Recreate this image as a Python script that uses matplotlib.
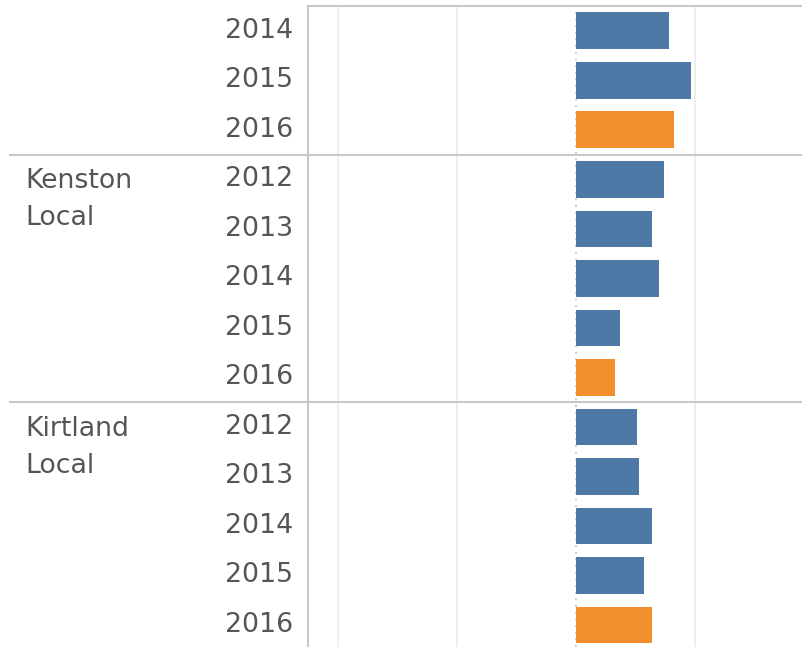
import numpy as np
import matplotlib.pyplot as plt
import matplotlib.transforms as mtransforms

# ============================== DATA ==============================
# rows (top -> bottom); first group is cut off at the top of the view
groups = ['', 'Kenston\nLocal', 'Kirtland\nLocal']
group_years = [['2014', '2015', '2016'],
               ['2012', '2013', '2014', '2015', '2016'],
               ['2012', '2013', '2014', '2015', '2016']]
group_vals = [[7.84, 9.69, 8.26],
              [7.42, 6.39, 7.00, 3.70, 3.28],
              [5.15, 5.35, 6.39, 5.77, 6.39]]

years = [y for g in group_years for y in g]
vals = np.array([v for g in group_vals for v in g])
is_current = np.array([y == '2016' for y in years])

# ============================== PLOT STUFF =============================
blue = '#4e79a7'
orange = '#f28e2b'
txtc = '#555555'
linec = '#c8c8c8'
gridc = '#ebebeb'
fs = 19.3

W, H = 803, 647
fig = plt.figure(figsize=(W/100, H/100), dpi=100)
ax = fig.add_axes([308/W, 0, 1 - 308/W, 1 - 6/H])

rows = np.arange(len(vals))
colors = [orange if c else blue for c in is_current]
ax.barh(rows, vals, height=0.74, color=colors, zorder=3)

ax.set_xlim(-22.5, 19.1)
ax.set_ylim((H - 31) / 49.5, -0.5)

# gridlines and zero line
for gx in [-20, -10, 10]:
    ax.axvline(gx, color=gridc, lw=1.2, zorder=1)
ax.axvline(0, color='#bbbbbb', lw=1.2, ls=(0, (1, 3)), zorder=2)

for s in ['right', 'bottom', 'left', 'top']:
    ax.spines[s].set_visible(False)
ax.set_xticks([])
ax.set_yticks([])

# left border + top border
ax.axvline(-22.5, color=linec, lw=1.5, zorder=4, clip_on=False)
ax.axhline(-0.5, color=linec, lw=1.5, zorder=4, clip_on=False)

trans = mtransforms.blended_transform_factory(ax.transAxes, ax.transData)

# year labels
for r, y in zip(rows, years):
    ax.text(-0.03, r, y, transform=trans, ha='right', va='center',
            fontsize=fs, color=txtc)

# group labels and separators
start = 0
for g, yrs in zip(groups, group_years):
    if start > 0:
        ax.plot([-0.602, 1.0], [start - 0.5, start - 0.5], transform=trans,
                color=linec, lw=1.5, clip_on=False, zorder=4)
    if g:
        ax.text(-0.57, start - 0.22, g, transform=trans, ha='left', va='top',
                fontsize=fs, color=txtc, linespacing=1.55)
    start += len(yrs)

plt.savefig('out.png', dpi=100)
